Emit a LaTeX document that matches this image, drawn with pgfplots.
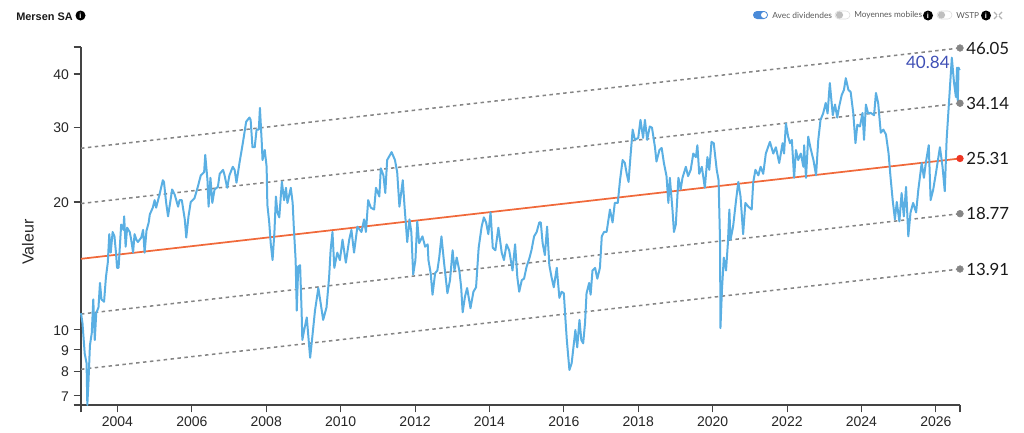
\documentclass[border=0pt]{standalone}
\usepackage{fontspec}
\setmainfont{Liberation Sans}
\newfontfamily\lato{Lato}
\usepackage{pgfplots}
\usepackage{pgfplotstable}
\pgfplotsset{compat=1.18}
\definecolor{cblue}{HTML}{5AAFE3}
\definecolor{corange}{HTML}{F0693A}
\definecolor{cred}{HTML}{EE3524}
\definecolor{cgray}{HTML}{858585}
\definecolor{caxis}{HTML}{444444}
\definecolor{cval}{HTML}{3F4FB5}
\definecolor{ctog}{HTML}{4A8AD8}
\pgfplotstableread{
x y
2003.02 10.95
2003.06 10.37
2003.12 8.8
2003.17 8.35
2003.19 6.66
2003.22 7.5
2003.26 9.2
2003.31 9.84
2003.35 11.8
2003.39 9.47
2003.43 10.95
2003.49 11.3
2003.53 12.9
2003.57 11.8
2003.64 11.65
2003.69 13.3
2003.74 14.4
2003.78 16.8
2003.82 15.2
2003.87 17.0
2003.92 16.6
2003.96 15.2
2003.99 14.0
2004.03 14.0
2004.07 16.0
2004.10 17.7
2004.16 17.2
2004.18 18.5
2004.22 15.7
2004.26 17.4
2004.33 17.0
2004.37 16.3
2004.42 15.2
2004.46 16.8
2004.51 16.3
2004.55 16.1
2004.64 16.5
2004.69 17.2
2004.73 15.2
2004.78 17.1
2004.84 17.9
2004.87 18.7
2004.95 19.4
2005.00 20.2
2005.04 19.4
2005.13 20.8
2005.22 22.5
2005.25 22.3
2005.31 19.9
2005.36 18.5
2005.40 19.5
2005.47 21.4
2005.54 20.8
2005.63 19.5
2005.67 20.2
2005.73 20.2
2005.81 18.2
2005.85 16.5
2005.91 18.5
2005.97 20.0
2006.07 20.4
2006.16 21.7
2006.24 23.1
2006.33 23.5
2006.36 25.8
2006.42 22.5
2006.45 19.5
2006.50 22.8
2006.55 19.9
2006.61 21.4
2006.70 21.7
2006.75 23.3
2006.84 23.8
2006.88 23.1
2006.95 21.6
2007.01 23.1
2007.10 24.2
2007.15 23.8
2007.20 22.2
2007.28 24.7
2007.37 27.5
2007.46 30.9
2007.55 31.6
2007.58 31.2
2007.63 26.9
2007.69 26.9
2007.74 29.6
2007.80 29.6
2007.83 33.3
2007.88 27.5
2007.90 25.1
2007.96 26.5
2008.01 24.2
2008.03 19.7
2008.08 17.9
2008.12 16.0
2008.17 14.6
2008.22 17.0
2008.26 20.6
2008.30 18.9
2008.35 18.4
2008.42 22.3
2008.48 20.2
2008.53 21.6
2008.57 19.9
2008.66 21.6
2008.71 19.9
2008.74 17.5
2008.79 14.6
2008.82 11.1
2008.86 14.1
2008.91 14.2
2008.95 11.1
2008.97 9.47
2009.02 10.0
2009.09 10.7
2009.14 9.47
2009.18 8.6
2009.23 9.47
2009.31 11.1
2009.40 12.55
2009.46 11.6
2009.53 10.56
2009.62 11.3
2009.69 13.3
2009.73 15.4
2009.78 17.0
2009.83 14.0
2009.91 15.2
2009.98 14.6
2010.05 16.3
2010.14 14.4
2010.23 16.3
2010.29 17.2
2010.36 15.2
2010.45 17.5
2010.56 17.0
2010.63 18.2
2010.68 17.0
2010.74 20.2
2010.81 19.4
2010.90 19.2
2010.95 21.6
2011.04 20.6
2011.08 24.0
2011.15 23.1
2011.20 21.0
2011.25 25.1
2011.37 26.2
2011.46 25.1
2011.52 23.5
2011.58 19.5
2011.67 22.5
2011.72 19.4
2011.79 16.1
2011.85 18.2
2011.90 17.0
2011.95 13.5
2012.01 14.6
2012.06 18.0
2012.11 16.0
2012.20 16.6
2012.27 15.7
2012.34 15.9
2012.36 14.6
2012.42 13.6
2012.47 12.1
2012.54 13.6
2012.60 13.8
2012.65 14.8
2012.71 16.6
2012.78 14.4
2012.87 12.2
2012.94 13.1
2013.01 15.4
2013.06 13.8
2013.12 14.8
2013.19 13.8
2013.24 12.6
2013.28 11.0
2013.34 11.95
2013.40 12.55
2013.49 11.25
2013.57 12.3
2013.64 12.6
2013.71 15.6
2013.79 17.5
2013.85 18.4
2013.91 17.9
2013.97 16.8
2014.03 18.9
2014.09 15.6
2014.16 15.4
2014.24 17.4
2014.33 15.2
2014.39 14.6
2014.46 15.9
2014.53 15.4
2014.62 13.8
2014.69 15.9
2014.75 13.3
2014.80 12.3
2014.87 13.1
2014.93 13.2
2015.00 14.1
2015.07 14.7
2015.13 15.4
2015.20 16.6
2015.27 17.0
2015.34 17.9
2015.38 17.9
2015.43 16.0
2015.49 15.0
2015.55 17.5
2015.61 14.2
2015.67 13.3
2015.73 12.6
2015.81 14.0
2015.88 11.9
2015.94 12.3
2016.00 12.2
2016.04 10.7
2016.08 9.47
2016.15 8.05
2016.21 8.35
2016.25 8.97
2016.31 10.0
2016.36 9.1
2016.42 10.56
2016.47 9.47
2016.52 9.3
2016.57 10.4
2016.61 12.2
2016.68 12.9
2016.72 12.1
2016.77 13.8
2016.84 14.0
2016.90 13.2
2016.97 14.0
2017.02 16.6
2017.08 17.0
2017.15 17.0
2017.24 19.2
2017.31 17.9
2017.37 19.9
2017.45 19.9
2017.51 22.5
2017.58 25.1
2017.64 24.7
2017.69 23.3
2017.74 22.3
2017.79 25.5
2017.85 29.6
2017.91 28.0
2018.00 28.3
2018.06 31.2
2018.13 28.3
2018.18 31.2
2018.24 28.0
2018.31 30.1
2018.37 29.9
2018.45 26.9
2018.49 24.9
2018.57 26.5
2018.63 26.8
2018.69 24.7
2018.76 23.0
2018.81 19.9
2018.85 22.8
2018.92 19.2
2018.96 17.0
2019.01 17.7
2019.08 22.8
2019.14 21.4
2019.19 22.8
2019.28 24.2
2019.34 23.0
2019.41 23.8
2019.48 26.0
2019.55 25.5
2019.59 27.2
2019.64 23.3
2019.71 24.2
2019.79 21.6
2019.86 25.5
2019.91 23.8
2019.97 27.7
2020.03 27.5
2020.11 23.8
2020.16 22.5
2020.20 16.0
2020.21 10.1
2020.25 12.4
2020.30 14.8
2020.36 13.8
2020.41 16.0
2020.45 19.2
2020.48 16.3
2020.55 17.5
2020.63 20.2
2020.69 22.3
2020.75 20.6
2020.82 16.8
2020.88 19.9
2020.96 19.5
2021.05 19.2
2021.09 22.2
2021.15 23.8
2021.23 23.1
2021.29 24.2
2021.36 23.3
2021.43 26.0
2021.54 27.7
2021.63 26.0
2021.70 26.9
2021.79 24.7
2021.88 27.5
2021.92 26.0
2021.97 30.6
2022.03 28.5
2022.08 27.5
2022.13 28.0
2022.19 22.8
2022.24 26.5
2022.30 25.1
2022.37 26.0
2022.44 24.2
2022.46 27.2
2022.51 22.8
2022.57 28.5
2022.63 26.8
2022.71 25.1
2022.78 23.1
2022.84 28.0
2022.90 31.2
2022.97 32.3
2023.04 34.2
2023.09 32.3
2023.15 38.1
2023.23 32.0
2023.29 33.9
2023.35 31.6
2023.40 33.5
2023.47 35.7
2023.53 36.7
2023.58 39.1
2023.65 36.7
2023.71 36.3
2023.78 32.4
2023.84 27.5
2023.89 30.4
2023.96 30.1
2024.03 32.4
2024.07 28.0
2024.12 33.9
2024.18 32.3
2024.25 32.4
2024.34 32.0
2024.39 36.1
2024.45 34.2
2024.52 29.1
2024.59 29.6
2024.66 28.8
2024.73 26.0
2024.78 23.0
2024.84 20.2
2024.90 18.2
2024.95 20.0
2025.02 18.0
2025.08 21.0
2025.14 18.5
2025.20 21.7
2025.26 16.6
2025.32 18.9
2025.39 19.9
2025.47 18.9
2025.53 21.4
2025.62 24.7
2025.68 22.8
2025.73 24.7
2025.81 27.2
2025.86 20.2
2025.93 21.4
2026.00 23.3
2026.11 26.9
2026.18 24.2
2026.24 21.2
2026.29 28.0
2026.38 37.3
2026.43 43.7
2026.49 38.1
2026.54 35.3
2026.57 41.4
2026.59 34.5
2026.61 41.4
2026.64 40.84
}\datatable
\begin{document}
\begin{tikzpicture}[x=0.75pt,y=-0.75pt]
\path (0,0) rectangle (1024,432);
\begin{axis}[
  at={(60.75pt,-35.25pt)},anchor=north west,
  scale only axis,width=659.25pt,height=268.5pt,
  ymode=log,
  xmin=2003.02,xmax=2026.65,ymin=6.66,ymax=46.3,
  axis lines=left,
  axis line style={-,caxis,line width=1pt},
  every tick/.style={caxis,line width=0.8pt},
  tick align=outside,
  major tick length=5.5pt,
  minor tick length=0pt,
  log ticks with fixed point,
  xtick={2003.02,2004,2006,2008,2010,2012,2014,2016,2018,2020,2022,2024,2026,2026.65},
  xticklabels={,2004,2006,2008,2010,2012,2014,2016,2018,2020,2022,2024,2026,},
  ytick={6.66,7,8,9,10,20,30,40,46.3},
  yticklabels={,7,8,9,10,20,30,40,},
  ticklabel style={font=\fontsize{10.5pt}{12pt}\selectfont,text=black!85},
  yticklabel style={yshift=-0.6pt},
  clip=false,
  axis on top=false,
]
\addplot[cgray,line width=1.15pt,dash pattern=on 2.6pt off 2.6pt] coordinates {(2003.02,26.75) (2026.65,46.05)};
\addplot[cgray,line width=1.15pt,dash pattern=on 2.6pt off 2.6pt] coordinates {(2003.02,19.83) (2026.65,34.14)};
\addplot[cgray,line width=1.15pt,dash pattern=on 2.6pt off 2.6pt] coordinates {(2003.02,10.9) (2026.65,18.77)};
\addplot[cgray,line width=1.15pt,dash pattern=on 2.6pt off 2.6pt] coordinates {(2003.02,8.08) (2026.65,13.91)};
\addplot[corange,line width=1.3pt] coordinates {(2003.02,14.7) (2026.65,25.31)};
\addplot[cblue,line width=1.5pt,line join=round] table[x=x,y=y] {\datatable};
\addplot[only marks,mark=*,mark size=2.5pt,cgray,mark options={draw=cgray,fill=cgray}] coordinates {(2026.65,46.05) (2026.65,34.14) (2026.65,18.77) (2026.65,13.91)};
\addplot[only marks,mark=*,mark size=2.5pt,cred,mark options={draw=cred,fill=cred}] coordinates {(2026.65,25.31)};
\node[anchor=west,inner sep=0pt,xshift=4.5pt,font=\lato\fontsize{12.6pt}{14pt}\selectfont,text=black!90] at (axis cs:2026.65,46.05) {46.05};
\node[anchor=west,inner sep=0pt,xshift=4.5pt,font=\lato\fontsize{12.6pt}{14pt}\selectfont,text=black!90] at (axis cs:2026.65,34.14) {34.14};
\node[anchor=west,inner sep=0pt,xshift=4.5pt,font=\lato\fontsize{12.6pt}{14pt}\selectfont,text=black!90] at (axis cs:2026.65,25.31) {25.31};
\node[anchor=west,inner sep=0pt,xshift=4.5pt,font=\lato\fontsize{12.6pt}{14pt}\selectfont,text=black!90] at (axis cs:2026.65,18.77) {18.77};
\node[anchor=west,inner sep=0pt,xshift=4.5pt,font=\lato\fontsize{12.6pt}{14pt}\selectfont,text=black!90] at (axis cs:2026.65,13.91) {13.91};
\node[anchor=east,inner sep=0pt,font=\lato\fontsize{12.8pt}{14pt}\selectfont,text=cval] at (axis cs:2026.38,42.6) {40.84};
\end{axis}
\node[rotate=90,font=\fontsize{12pt}{14pt}\selectfont,text=black!85] at (28,242) {Valeur};
\node[anchor=west,inner sep=0pt,font=\bfseries\fontsize{8.2pt}{10pt}\selectfont,text=black!90] at (16,16.5) {Mersen SA};
\foreach \cx in {80.5,928,986}{
  \fill[black] (\cx,15.5) circle (5);
  \node[inner sep=0pt,font=\bfseries\fontsize{5.5pt}{6pt}\selectfont,text=white] at (\cx,15.5) {i};
}
% toggles
\fill[ctog,rounded corners=3pt] (753,11) rectangle (768,19);
\fill[white] (764,15) circle (3);
\draw[black!15,rounded corners=3pt,line width=.4pt] (835,11) rectangle (850,19);
\fill[black!25] (839.5,15) circle (3.6);
\draw[black!15,rounded corners=3pt,line width=.4pt] (937,11) rectangle (952,19);
\fill[black!25] (941.5,15) circle (3.6);
\node[anchor=west,inner sep=0pt,font=\lato\fontsize{6.3pt}{8pt}\selectfont,text=black!65] at (772,15.5) {Avec dividendes};
\node[anchor=west,inner sep=0pt,font=\lato\fontsize{6.2pt}{8pt}\selectfont,text=black!65] at (854,15.5) {Moyennes mobiles};
\node[anchor=west,inner sep=0pt,font=\lato\fontsize{6.2pt}{8pt}\selectfont,text=black!65] at (956,15.5) {WSTP};
\draw[black!30,line width=.9pt] (994,12)--(997,15) (1002,12)--(999,15) (994,19)--(997,16) (1002,19)--(999,16);
\end{tikzpicture}
\end{document}
